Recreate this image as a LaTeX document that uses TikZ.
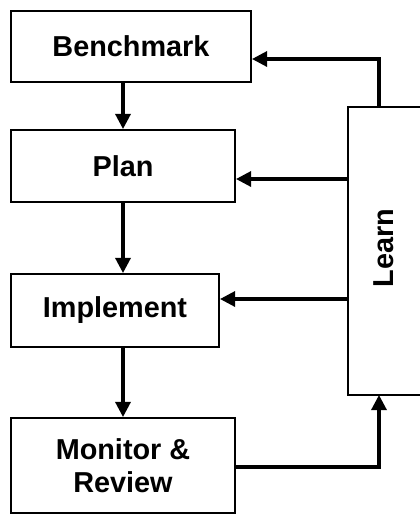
\documentclass[tikz,border=0pt]{standalone}
\usepackage{fontspec}
\setmainfont{Liberation Sans}
\usetikzlibrary{arrows.meta,calc,positioning}

\begin{document}
\begin{tikzpicture}[
    x=0.025cm, y=-0.025cm,
    box/.style={rectangle, draw, line width=1.4pt, align=center, inner sep=0pt,
        font=\fontsize{20.5}{23.5}\selectfont\bfseries},
    arrow/.style={-{Triangle[length=0.38cm, width=0.38cm]}, line width=2.2pt}
]
    \clip (0,0) rectangle (420,515);

    % Stages
    \node[box, minimum width=6cm, minimum height=1.775cm] (bench) at (131,46.5) {Benchmark};
    \node[box, minimum width=5.6cm, minimum height=1.8cm] (plan) at (123,166) {Plan};
    \node[box, minimum width=5.2cm, minimum height=1.825cm] (impl) at (115,310.5) {Implement};
    \node[box, minimum width=5.6cm, minimum height=2.375cm] (mon) at (123,465.5) {Monitor \&\\Review};

    % Learn
    \node[box, minimum width=2.05cm, minimum height=7.2cm] (learn) at (389,251) {};
    \node[font=\fontsize{20.5}{23.5}\selectfont\bfseries, rotate=90] (learntext) at (384,248) {Learn};

    \coordinate (ltop) at (379,107);
    \coordinate (lbot) at (379,395);

    \draw[arrow] (bench.south -| plan) -- (plan.north);
    \draw[arrow] (plan.south) -- (plan.south |- impl.north);
    \draw[arrow] (impl.south -| mon) -- (mon.north);

    \draw[arrow] (ltop) -- (379,59) -- (bench.east |- 0,59);
    \draw[arrow] (learn.west |- 0,179) -- (plan.east |- 0,179);
    \draw[arrow] (learn.west |- 0,299) -- (impl.east |- 0,299);
    \draw[arrow] (mon.east |- 0,467) -- (379,467) -- (lbot);
\end{tikzpicture}
\end{document}
